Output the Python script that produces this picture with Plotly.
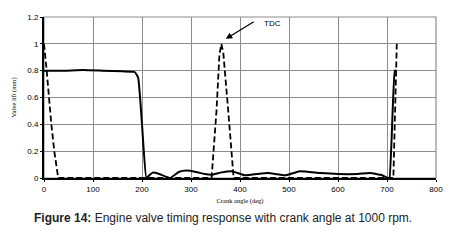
import plotly.graph_objects as go

# Solid curve (valve lift, mm)
solid_x = [0, 40, 80, 120, 160, 185, 192, 200, 209, 215, 222, 235, 257, 275, 291, 310, 328, 342, 360, 383, 410, 435, 457, 493, 522, 563, 600, 640, 665, 690, 702, 705, 716, 719]
solid_y = [0.8, 0.8, 0.805, 0.8, 0.795, 0.79, 0.75, 0.4, 0.0, 0.02, 0.04, 0.03, 0.0, 0.045, 0.055, 0.045, 0.03, 0.025, 0.04, 0.05, 0.02, 0.03, 0.037, 0.02, 0.05, 0.037, 0.03, 0.03, 0.037, 0.02, 0.0, 0.0, 0.8, 0.8]

# Dashed curve
dash_x = [0, 5, 15, 21, 29, 342, 352, 358, 362, 366, 376, 387, 713, 720]
dash_y = [1.0, 0.82, 0.4, 0.2, 0.0, 0.0, 0.5, 0.92, 1.0, 0.93, 0.5, 0.0, 0.0, 1.0]

x_ticks = [0, 100, 200, 300, 400, 500, 600, 700, 800]
y_ticks = [0, 0.2, 0.4, 0.6, 0.8, 1, 1.2]
y_tick_text = ["0", "0.2", "0.4", "0.6", "0.8", "1", "1.2"]

fig = go.Figure()
fig.add_trace(go.Scatter(x=dash_x, y=dash_y, mode="lines",
                         line=dict(color="black", width=1.8, dash="6px,3px"),
                         showlegend=False, hoverinfo="skip"))
fig.add_trace(go.Scatter(x=solid_x, y=solid_y, mode="lines",
                         line=dict(color="black", width=2, shape="spline", smoothing=0.4),
                         showlegend=False, hoverinfo="skip"))

tick_font = dict(family="Liberation Sans, Arial", size=8, color="black")
fig.update_xaxes(range=[0, 800], tickvals=x_ticks, showgrid=True, gridcolor="#8c8c8c", gridwidth=1,
                 showline=True, linecolor="black", linewidth=2, ticks="outside", ticklen=2,
                 tickcolor="black", tickfont=tick_font, zeroline=False, automargin=False,
                 title=dict(text="Crank angle (deg)", font=dict(family="Liberation Serif, Times New Roman", size=6.5, color="black"), standoff=6))
fig.update_yaxes(range=[0, 1.2], tickvals=y_ticks, ticktext=y_tick_text, showgrid=True, gridcolor="#8c8c8c", gridwidth=1,
                 showline=True, linecolor="black", linewidth=2, ticks="outside", ticklen=2,
                 tickcolor="black", tickfont=tick_font, zeroline=False, automargin=False,
                 title=dict(text="Valve lift (mm)", font=dict(family="Liberation Serif, Times New Roman", size=6.5, color="black"), standoff=10))

# border top/right
fig.add_shape(type="rect", xref="paper", yref="paper", x0=0, y0=0, x1=1, y1=1,
              line=dict(color="#8c8c8c", width=1.2), layer="below")

fig.add_annotation(x=371, y=1.037, xref="x", yref="y", text=" ", showarrow=True,
                   ax=31, ay=-19, arrowhead=2, arrowsize=1, arrowwidth=1.3, arrowcolor="black")
fig.add_annotation(x=445, y=1.15, xref="x", yref="y", text="TDC", showarrow=False,
                   xanchor="left", yanchor="middle",
                   font=dict(family="Liberation Sans, Arial", size=8, color="black"))
fig.add_annotation(xref="paper", yref="paper", x=0.5, y=0, xshift=-17, text="<b>Figure 14:</b> Engine valve timing response with crank angle at 1000 rpm.",
                   showarrow=False, xanchor="center", yanchor="middle", yshift=-40,
                   font=dict(family="Liberation Sans, Arial", size=12, color="#222"))

fig.update_layout(width=456, height=241, margin=dict(l=36, r=28, t=9, b=71),
                  paper_bgcolor="white", plot_bgcolor="white")
fig.write_html("out.html")
